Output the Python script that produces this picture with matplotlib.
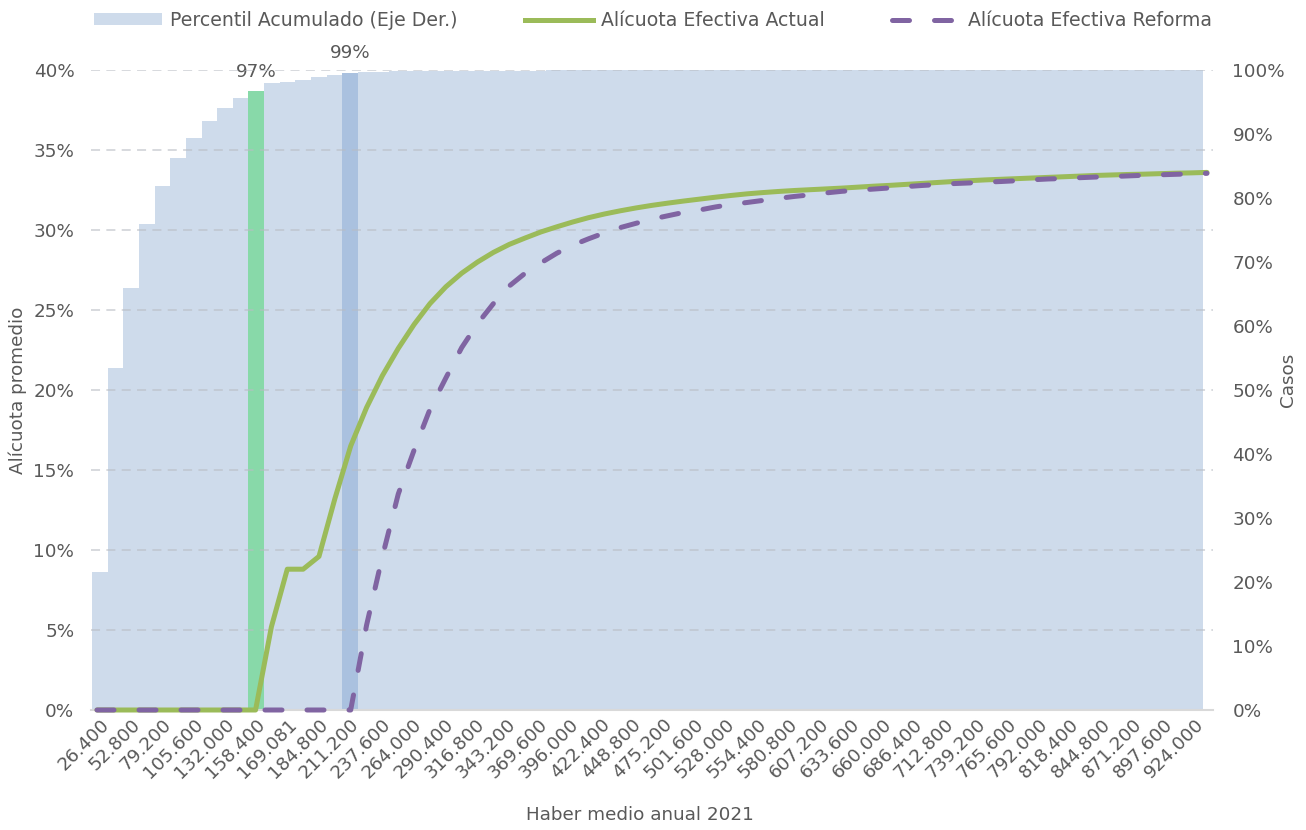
import numpy as np
import matplotlib
matplotlib.use("Agg")
import matplotlib.pyplot as plt
from matplotlib.patches import Patch
from matplotlib.lines import Line2D

# x axis labels (every other category is labelled)
tick_labels = [
    "26.400", "52.800", "79.200", "105.600", "132.000", "158.400", "169.081",
    "184.800", "211.200", "237.600", "264.000", "290.400", "316.800", "343.200",
    "369.600", "396.000", "422.400", "448.800", "475.200", "501.600", "528.000",
    "554.400", "580.800", "607.200", "633.600", "660.000", "686.400", "712.800",
    "739.200", "765.600", "792.000", "818.400", "844.800", "871.200", "897.600",
    "924.000",
]

# cumulative percentile of cases (right axis, %)
percentil = [
    21.5, 53.4, 66.0, 76.0, 81.9, 86.2, 89.4, 92.0, 94.0, 95.6,
    96.7, 97.9, 98.05, 98.5, 98.95, 99.2, 99.6, 99.7, 99.75, 99.8,
    99.8, 99.82, 99.85, 99.87, 99.88, 99.9, 99.9, 99.91, 99.92, 99.93,
    99.94, 99.94, 99.95, 99.95, 99.96, 99.96, 99.97, 99.97, 99.97, 99.98,
    99.98, 99.98, 99.98, 99.99, 99.99, 99.99, 99.99, 99.99, 99.99, 100.0,
    100.0, 100.0, 100.0, 100.0, 100.0, 100.0, 100.0, 100.0, 100.0, 100.0,
    100.0, 100.0, 100.0, 100.0, 100.0, 100.0, 100.0, 100.0, 100.0, 100.0,
    100.0,
]

# effective rate, current law (left axis, %)
actual = [
    0, 0, 0, 0, 0, 0, 0, 0, 0, 0,
    0, 5.2, 8.8, 8.8, 9.6, 13.2, 16.5, 18.9, 20.9, 22.6,
    24.1, 25.4, 26.45, 27.3, 28.0, 28.6, 29.1, 29.5, 29.88, 30.2,
    30.5, 30.77, 31.0, 31.2, 31.38, 31.54, 31.68, 31.81, 31.93, 32.05,
    32.16, 32.26, 32.34, 32.41, 32.47, 32.52, 32.57, 32.62, 32.68, 32.74,
    32.79, 32.85, 32.91, 32.97, 33.03, 33.08, 33.13, 33.17, 33.21, 33.25,
    33.29, 33.33, 33.37, 33.41, 33.44, 33.47, 33.49, 33.52, 33.55, 33.57,
    33.6,
]

# effective rate, reform (left axis, %)
reforma = [
    0, 0, 0, 0, 0, 0, 0, 0, 0, 0,
    0, 0, 0, 0, 0, 0, 0, 5.3, 9.6, 13.5,
    16.25, 18.8, 20.75, 22.65, 24.15, 25.4, 26.5, 27.3, 27.95, 28.55,
    29.05, 29.45, 29.82, 30.15, 30.42, 30.68, 30.89, 31.1, 31.25, 31.44,
    31.6, 31.72, 31.85, 31.98, 32.1, 32.2, 32.32, 32.42, 32.49, 32.56,
    32.63, 32.71, 32.78, 32.84, 32.9, 32.94, 32.99, 33.03, 33.08, 33.14,
    33.19, 33.22, 33.27, 33.31, 33.34, 33.38, 33.42, 33.45, 33.48, 33.51,
    33.54,
]

# highlighted percentile bars: index -> label
highlights = {10: "97%", 16: "99%"}

TEXT = "#595959"
BAR = "#cedbeb"
HL_COLORS = {10: "#88d9a9", 16: "#aac1df"}
GREEN = "#9bbb59"
PURPLE = "#8064a2"
FS = 13.2

plt.rcParams["font.family"] = ["DejaVu Sans"]
plt.rcParams["font.size"] = FS

W, H = 1306, 830
fig = plt.figure(figsize=(W / 100, H / 100), dpi=100)
rect = [91 / W, 1 - 710 / H, (1213 - 91) / W, (710 - 70) / H]

# bars (right axis)
ax_bar = fig.add_axes(rect)
n = len(percentil)
x = np.arange(n)
colors = [HL_COLORS.get(i, BAR) for i in range(n)]
ax_bar.bar(x, np.array(percentil) / 100, width=1.0, color=colors, linewidth=0)
ax_bar.set_xlim(-0.564, 71.14)
ax_bar.set_ylim(0, 1)
ax_bar.yaxis.tick_right()
ax_bar.set_yticks(np.arange(0, 1.01, 0.1))
ax_bar.set_yticklabels([f"{int(round(v * 100))}%" for v in np.arange(0, 1.01, 0.1)])
ax_bar.tick_params(axis="y", length=0, pad=14, colors=TEXT, labelsize=FS)
ax_bar.set_xticks(np.arange(0, n, 2))
ax_bar.set_xticklabels(tick_labels, rotation=45, ha="right", rotation_mode="anchor")
ax_bar.tick_params(axis="x", length=0, pad=4, colors=TEXT, labelsize=FS)
for s in ["top", "left", "right"]:
    ax_bar.spines[s].set_visible(False)
ax_bar.spines["bottom"].set_color("#d9d9d9")
ax_bar.spines["bottom"].set_linewidth(1.5)

for i, lbl in highlights.items():
    ax_bar.annotate(lbl, (i, percentil[i] / 100), xytext=(0, 7.5),
                    textcoords="offset points", ha="center", va="bottom",
                    color=TEXT, fontsize=FS, annotation_clip=False)

# lines (left axis)
ax_line = fig.add_axes(rect, facecolor="none")
ax_line.plot(x, np.array(actual) / 100, color=GREEN, lw=3.6,
             solid_capstyle="round", solid_joinstyle="round", zorder=3, clip_on=False)
ax_line.plot(x, np.array(reforma) / 100, color=PURPLE, lw=3.6,
             dashes=(3.4, 5.0), dash_capstyle="round", zorder=4, clip_on=False)
ax_line.set_xlim(-0.378, 70.38)
ax_line.set_ylim(0, 0.40)
ax_line.set_yticks(np.arange(0, 0.401, 0.05))
ax_line.set_yticklabels([f"{int(round(v * 100))}%" for v in np.arange(0, 0.401, 0.05)])
ax_line.tick_params(axis="y", length=0, pad=12, colors=TEXT, labelsize=FS)
ax_line.set_xticks([])
for s in ax_line.spines.values():
    s.set_visible(False)
ax_line.set_axisbelow(True)
ax_line.yaxis.grid(True, color="#b8bcc4", alpha=0.6, lw=1.3, linestyle=(0, (5, 3.5)))
ax_line.get_ygridlines()[0].set_visible(False)

fig.text(640 / W, 1 - 815 / H, "Haber medio anual 2021", ha="center", va="center",
         color=TEXT, fontsize=FS)
fig.text(18 / W, 1 - 390 / H, "Alícuota promedio", ha="center", va="center",
         rotation=90, color=TEXT, fontsize=FS)
fig.text(1288 / W, 1 - 380 / H, "Casos", ha="center", va="center",
         rotation=90, color=TEXT, fontsize=FS)

handles = [
    Patch(facecolor=BAR, edgecolor="none"),
    Line2D([], [], color=GREEN, lw=3.6),
    Line2D([], [], color=PURPLE, lw=3.6, dashes=(3.4, 5.0), dash_capstyle="round"),
]
labels = ["Percentil Acumulado (Eje Der.)", "Alícuota Efectiva Actual",
          "Alícuota Efectiva Reforma"]
fig.legend(handles, labels, loc="upper left", bbox_to_anchor=(77 / W, 1 + 6 / H),
           ncol=3, frameon=False, handlelength=3.6, handleheight=0.6,
           handletextpad=0.43, columnspacing=3.55, fontsize=13.6, labelcolor=TEXT)

fig.savefig("out.png", dpi=100)
